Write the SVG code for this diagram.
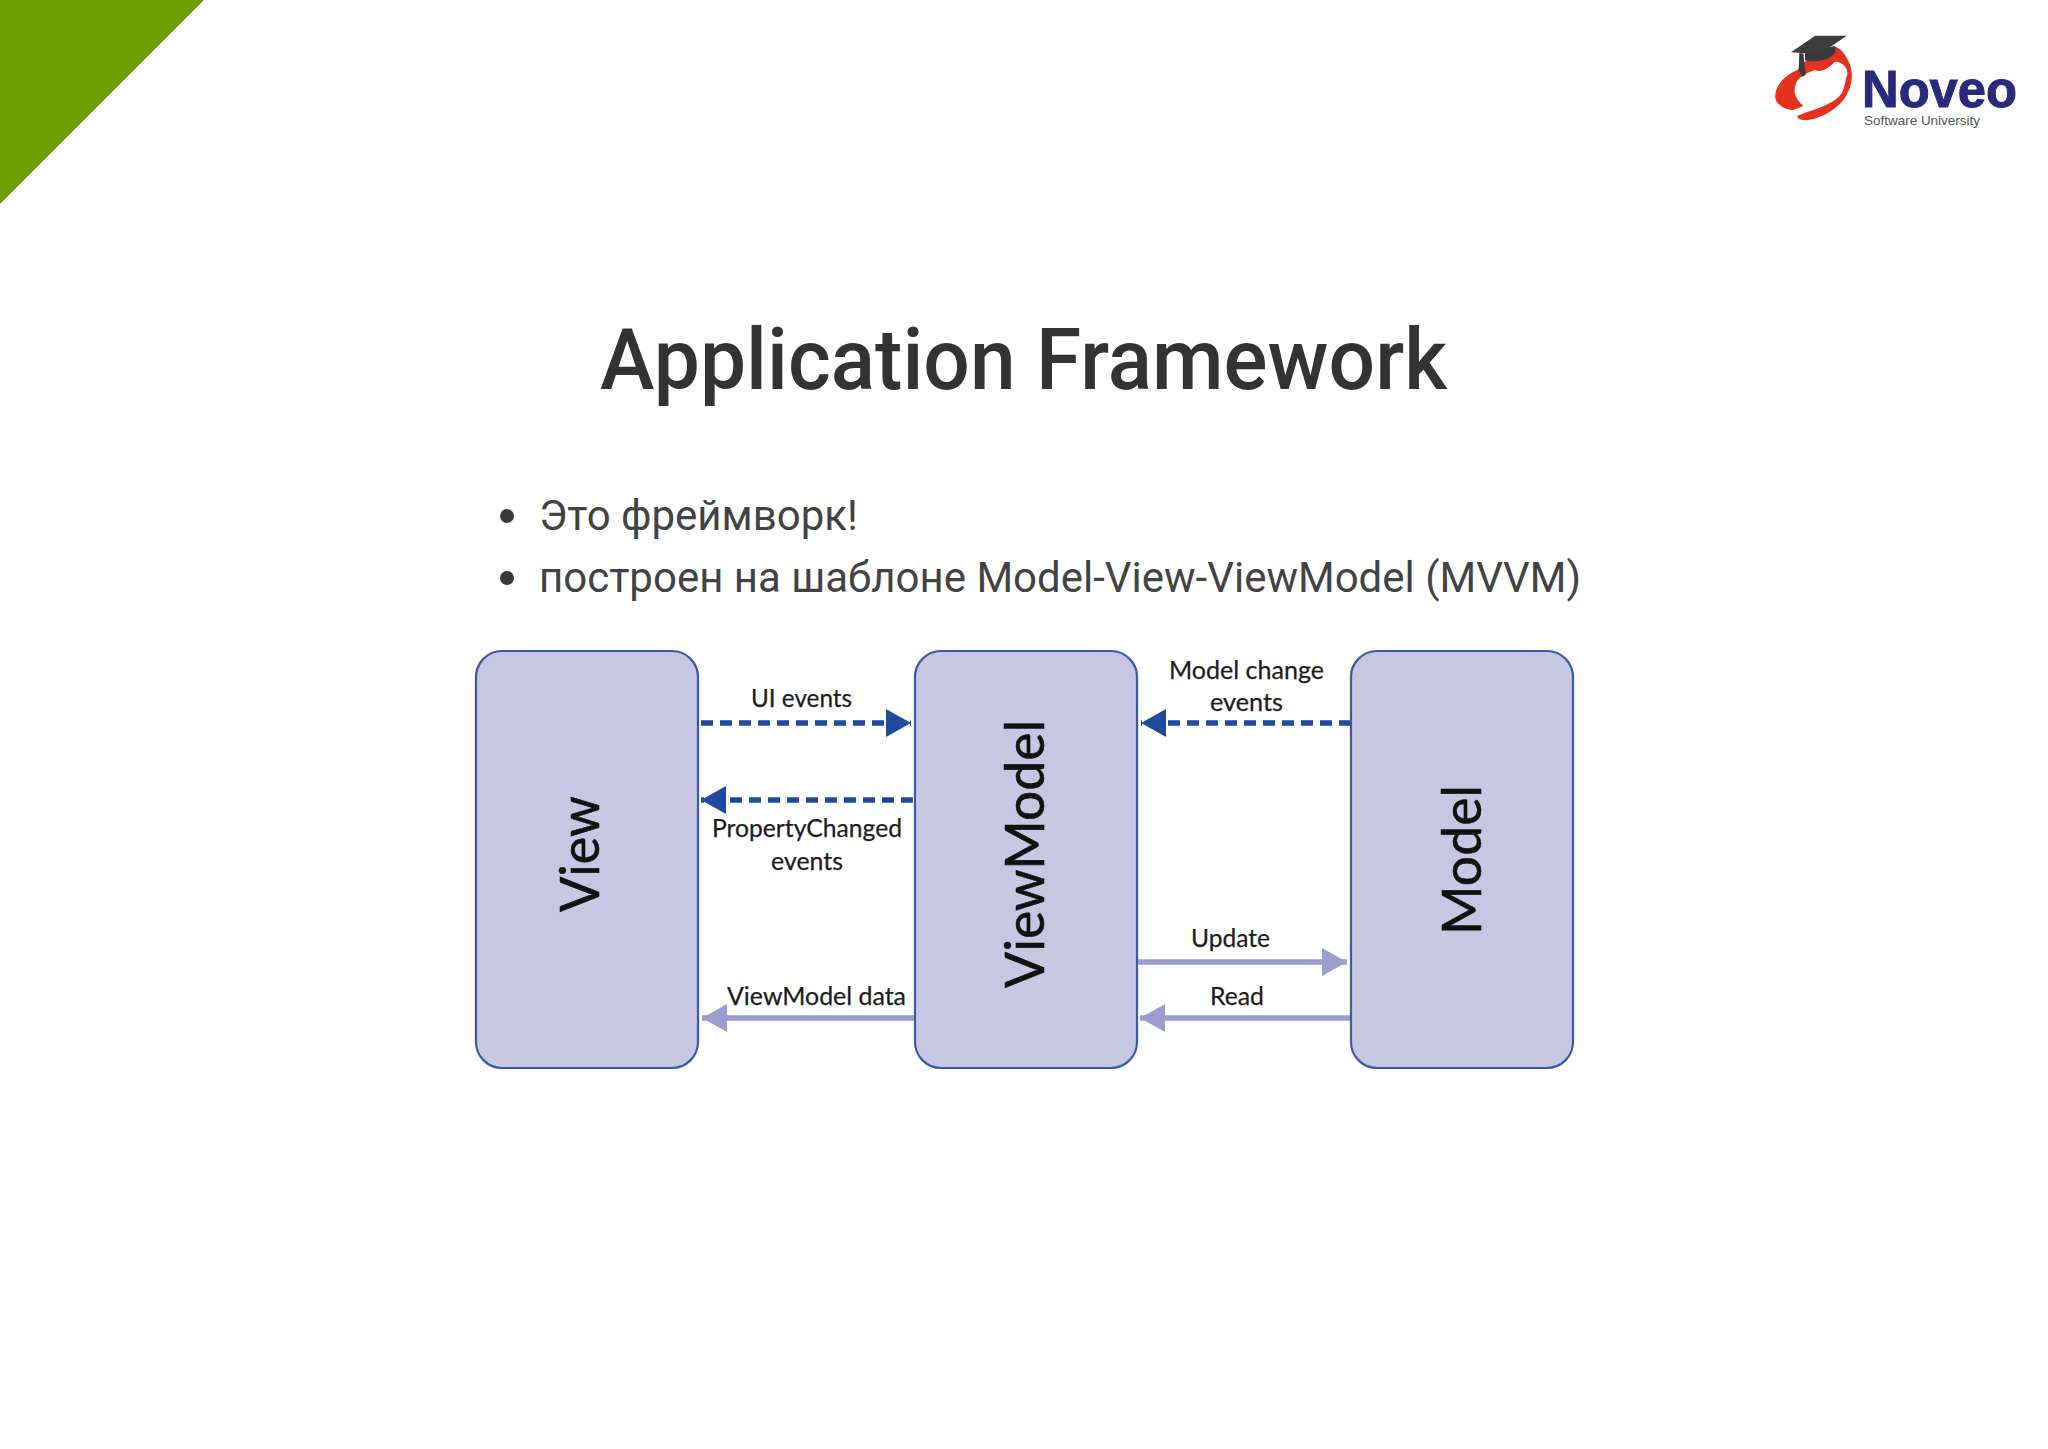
<svg xmlns="http://www.w3.org/2000/svg" width="2048" height="1449" viewBox="0 0 2048 1449">
<style>
.title{font-family:Roboto,"Liberation Sans",sans-serif;font-weight:500;font-size:85px;fill:#333}
.bullet{font-family:Roboto,"Liberation Sans",sans-serif;font-size:42px;fill:#434343}
.lbl{font-family:Lato,"Liberation Sans",sans-serif;font-size:25px;fill:#1c1c1c;stroke:#1c1c1c;stroke-width:.25}
.node-lbl{font-family:Lato,"Liberation Sans",sans-serif;font-size:54px;fill:#111;stroke:#111;stroke-width:.6}
.box{fill:#c7c7e4;stroke:#3a5aa8;stroke-width:2.2}
.dash{stroke:#1f4a9e;stroke-width:5.5;stroke-dasharray:12 7;fill:none}
.solid{stroke:#9c9dcf;stroke-width:5.5;fill:none}
</style>
<defs>
<marker id="hd" viewBox="0 0 25 28" refX="25" refY="14" markerUnits="userSpaceOnUse" markerWidth="25" markerHeight="28" orient="auto"><path d="M0 0L25 14L0 28Z" fill="#1f4a9e"/></marker>
<marker id="hl" viewBox="0 0 25 28" refX="25" refY="14" markerUnits="userSpaceOnUse" markerWidth="25" markerHeight="28" orient="auto"><path d="M0 0L25 14L0 28Z" fill="#9c9dcf"/></marker>
</defs>
<rect width="2048" height="1449" fill="#fff"/>
<polygon id="corner" points="0,0 204,0 0,204" fill="#6aa100"/>
<g id="logo">
<g transform="translate(1740 10) scale(.3333)">
<path d="M172 180C120 200 95 250 110 275C125 295 150 305 178 298L172 322C190 345 270 320 310 270C340 230 345 180 318 140C305 115 290 110 280 110L200 150Z" fill="#e5321f"/>
<path d="M165 230C170 200 200 190 225 180C245 190 270 170 285 155C310 155 325 175 322 195C315 205 318 225 305 250C290 275 240 295 190 310C185 300 190 290 188 285C170 270 160 250 165 230Z" fill="#fff"/>
<path d="M150 304L190 288L192 310L170 318Z" fill="#fff"/>
<path d="M195 130L285 108C295 125 275 145 250 150C225 155 205 155 195 150Z" fill="#3a3a3a"/>
<path d="M153 127L225 77L320 77L240 133Z" fill="#3d3d3d"/>
<path d="M178 130L190 130L197 195L186 200L176 180Z" fill="#3a3a3a"/>
</g>
<text x="1862" y="107" font-family="Liberation Sans,sans-serif" font-weight="700" font-size="52" fill="#2a2a7c" stroke="#2a2a7c" stroke-width="1" textLength="155" lengthAdjust="spacingAndGlyphs">Noveo</text>
<text x="1864" y="125" font-family="Liberation Sans,sans-serif" font-size="13.5" fill="#555" textLength="116" lengthAdjust="spacingAndGlyphs">Software University</text>
</g>
<text class="title" x="600" y="389" textLength="847" lengthAdjust="spacingAndGlyphs">Application Framework</text>
<g id="bullets">
<circle cx="507" cy="516" r="7" fill="#3a3a3a"/>
<text class="bullet" x="539" y="530">Это фреймворк!</text>
<circle cx="507" cy="578" r="7" fill="#3a3a3a"/>
<text class="bullet" x="539" y="592" textLength="1042" lengthAdjust="spacingAndGlyphs">построен на шаблоне Model-View-ViewModel (MVVM)</text>
</g>
<g id="connectors">
<line class="dash" x1="701" y1="723" x2="911" y2="723" marker-end="url(#hd)"/>
<line class="dash" x1="913" y1="800" x2="701" y2="800" marker-end="url(#hd)"/>
<line class="dash" x1="1351" y1="723" x2="1141" y2="723" marker-end="url(#hd)"/>
<line class="solid" x1="1137" y1="962" x2="1347" y2="962" marker-end="url(#hl)"/>
<line class="solid" x1="1351" y1="1018" x2="1140" y2="1018" marker-end="url(#hl)"/>
<line class="solid" x1="914" y1="1018" x2="702" y2="1018" marker-end="url(#hl)"/>
</g>
<g id="view"><rect class="box" x="476" y="651" width="222" height="417" rx="26"/>
<text class="node-lbl" transform="translate(599 912) rotate(-90)" textLength="116" lengthAdjust="spacingAndGlyphs">View</text></g>
<g id="viewmodel"><rect class="box" x="915" y="651" width="222" height="417" rx="26"/>
<text class="node-lbl" transform="translate(1044 988) rotate(-90)" textLength="268" lengthAdjust="spacingAndGlyphs">ViewModel</text></g>
<g id="model"><rect class="box" x="1351" y="651" width="222" height="417" rx="26"/>
<text class="node-lbl" transform="translate(1481 935) rotate(-90)" textLength="150" lengthAdjust="spacingAndGlyphs">Model</text></g>
<g id="labels">
<text class="lbl" x="751" y="707" textLength="101" lengthAdjust="spacingAndGlyphs">UI events</text>
<text class="lbl" x="712" y="837" textLength="190" lengthAdjust="spacingAndGlyphs">PropertyChanged</text>
<text class="lbl" x="771" y="870" textLength="72" lengthAdjust="spacingAndGlyphs">events</text>
<text class="lbl" x="727" y="1005" textLength="179" lengthAdjust="spacingAndGlyphs">ViewModel data</text>
<text class="lbl" x="1169" y="679" textLength="155" lengthAdjust="spacingAndGlyphs">Model change</text>
<text class="lbl" x="1210" y="711" textLength="73" lengthAdjust="spacingAndGlyphs">events</text>
<text class="lbl" x="1191" y="947" textLength="79" lengthAdjust="spacingAndGlyphs">Update</text>
<text class="lbl" x="1210" y="1005" textLength="54" lengthAdjust="spacingAndGlyphs">Read</text>
</g>
</svg>
